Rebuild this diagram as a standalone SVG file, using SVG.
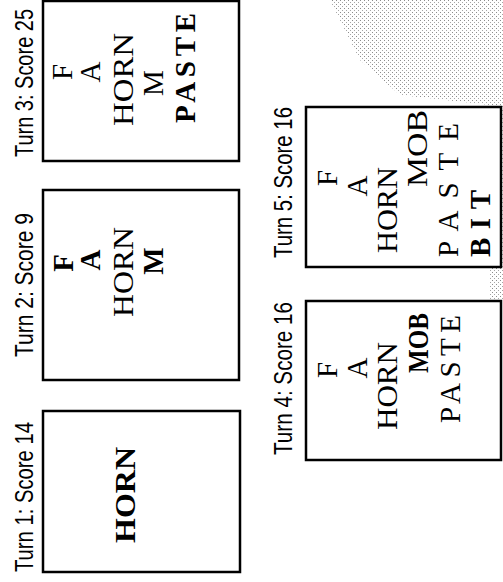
<svg xmlns="http://www.w3.org/2000/svg" width="503" height="582" viewBox="0 0 503 582">
<style>
.box{fill:#fff;stroke:#000;stroke-width:2.5}
.lbl{font-family:"Liberation Sans",Arial,sans-serif;font-size:20px;fill:#000}
.t{font-family:"Liberation Serif","Times New Roman",serif;font-size:29px;fill:#000}
.b{font-weight:bold}
.m{text-anchor:middle}
</style>
<defs>
<pattern id="dots" width="4" height="4" patternUnits="userSpaceOnUse">
<rect x="0" y="0" width="1" height="1" fill="#666"/>
<rect x="2" y="2" width="1" height="1" fill="#888"/>
</pattern>
</defs>
<rect width="503" height="582" fill="#fff"/>
<path d="M330,0 L503,0 L503,300 L490,300 L490,105 L400,95 L360,60 Z" fill="url(#dots)" opacity="0.75"/>
<g id="turn1">
<rect class="box" x="43" y="411" width="197" height="161"/>
<text class="lbl" transform="translate(33,572) rotate(-90) scale(1,1.25)" textLength="150" lengthAdjust="spacingAndGlyphs">Turn 1: Score 14</text>
<text class="t b" transform="translate(135,543) rotate(-90)" textLength="96" lengthAdjust="spacingAndGlyphs">HORN</text>
</g>
<g id="turn2">
<rect class="box" x="43" y="190" width="196" height="190"/>
<text class="lbl" transform="translate(33,357) rotate(-90) scale(1,1.25)" textLength="144" lengthAdjust="spacingAndGlyphs">Turn 2: Score 9</text>
<text class="t b m" transform="translate(73,263) rotate(-90)">F</text>
<text class="t b m" transform="translate(100,260) rotate(-90)">A</text>
<text class="t" transform="translate(133,317) rotate(-90)" textLength="90" lengthAdjust="spacingAndGlyphs">HORN</text>
<text class="t b m" transform="translate(163,261) rotate(-90)">M</text>
</g>
<g id="turn3">
<rect class="box" x="43" y="1" width="196" height="160"/>
<text class="lbl" transform="translate(33,157) rotate(-90) scale(1,1.25)" textLength="148" lengthAdjust="spacingAndGlyphs">Turn 3: Score 25</text>
<text class="t m" transform="translate(72,72) rotate(-90)">F</text>
<text class="t m" transform="translate(100,72) rotate(-90)">A</text>
<text class="t" transform="translate(133,126) rotate(-90)" textLength="93" lengthAdjust="spacingAndGlyphs">HORN</text>
<text class="t m" transform="translate(163,83) rotate(-90)">M</text>
<text class="t b" transform="translate(195,123) rotate(-90)" textLength="110" lengthAdjust="spacing">PASTE</text>
</g>
<g id="turn4">
<rect class="box" x="306" y="301" width="195" height="159"/>
<text class="lbl" transform="translate(292,455) rotate(-90) scale(1,1.25)" textLength="153" lengthAdjust="spacingAndGlyphs">Turn 4: Score 16</text>
<text class="t m" transform="translate(337,370) rotate(-90)">F</text>
<text class="t m" transform="translate(367,368) rotate(-90)">A</text>
<text class="t" transform="translate(397,430) rotate(-90)" textLength="88" lengthAdjust="spacingAndGlyphs">HORN</text>
<text class="t b" transform="translate(428,373) rotate(-90)" textLength="60" lengthAdjust="spacingAndGlyphs">MOB</text>
<text class="t" transform="translate(460,423) rotate(-90)" textLength="108" lengthAdjust="spacing">PASTE</text>
</g>
<g id="turn5">
<rect class="box" x="306" y="107" width="195" height="160"/>
<text class="lbl" transform="translate(292,258) rotate(-90) scale(1,1.25)" textLength="151" lengthAdjust="spacingAndGlyphs">Turn 5: Score 16</text>
<text class="t m" transform="translate(337,178) rotate(-90)">F</text>
<text class="t m" transform="translate(367,186) rotate(-90)">A</text>
<text class="t" transform="translate(397,253) rotate(-90)" textLength="86" lengthAdjust="spacingAndGlyphs">HORN</text>
<text class="t" transform="translate(427,187) rotate(-90)" textLength="77" lengthAdjust="spacingAndGlyphs">MOB</text>
<text class="t" transform="translate(458,257) rotate(-90)" textLength="134" lengthAdjust="spacing">PASTE</text>
<text class="t b" transform="translate(490,257) rotate(-90)" textLength="67" lengthAdjust="spacing">BIT</text>
</g>
<g id="connectors"></g>
</svg>
